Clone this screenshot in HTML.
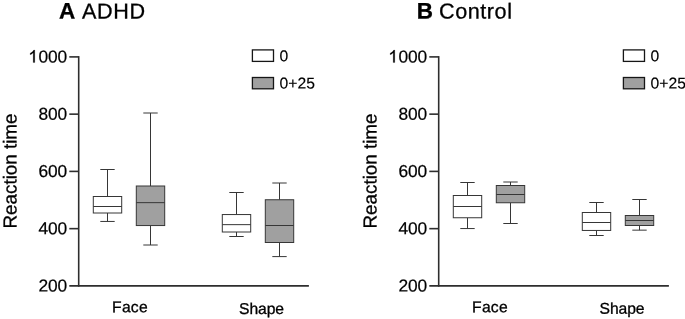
<!DOCTYPE html>
<html><head><meta charset="utf-8"><title>Reaction time</title>
<style>
html,body{margin:0;padding:0;background:#fff;}
body{width:685px;height:319px;overflow:hidden;}
svg{display:block;will-change:transform;}
text{font-family:"Liberation Sans",sans-serif;fill:#000;stroke:#000;}
</style></head><body>
<svg width="685" height="319" viewBox="0 0 685 319">
<rect width="685" height="319" fill="#fff"/>
<path d="M78.70 56.10V286.70" stroke="#2e2e2e" stroke-width="1.6" fill="none"/>
<path d="M69.30 285.90H308.90" stroke="#2e2e2e" stroke-width="1.6" fill="none"/>
<path d="M69.30 56.90H78.70" stroke="#2e2e2e" stroke-width="1.6" fill="none"/>
<path d="M69.30 114.15H78.70" stroke="#2e2e2e" stroke-width="1.6" fill="none"/>
<path d="M69.30 171.40H78.70" stroke="#2e2e2e" stroke-width="1.6" fill="none"/>
<path d="M69.30 228.65H78.70" stroke="#2e2e2e" stroke-width="1.6" fill="none"/>
<text transform="translate(67.00 62.55) matrix(1 0.001 0 1 0 0)" font-size="17.35" text-anchor="end" letter-spacing="-0.12" stroke-width="0.22">000</text>
<path transform="translate(28.29 62.55) scale(0.00847 -0.00847)" d="M763 0H583V1147Q518 1085 412.5 1023Q307 961 223 930V1104Q374 1175 487 1276Q600 1377 647 1472H763Z" fill="#000" stroke="#000" stroke-width="26.0"/>
<text transform="translate(67.00 119.80) matrix(1 0.001 0 1 0 0)" font-size="17.35" text-anchor="end" letter-spacing="-0.12" stroke-width="0.22">800</text>
<text transform="translate(67.00 177.05) matrix(1 0.001 0 1 0 0)" font-size="17.35" text-anchor="end" letter-spacing="-0.12" stroke-width="0.22">600</text>
<text transform="translate(67.00 234.30) matrix(1 0.001 0 1 0 0)" font-size="17.35" text-anchor="end" letter-spacing="-0.12" stroke-width="0.22">400</text>
<text transform="translate(67.00 291.55) matrix(1 0.001 0 1 0 0)" font-size="17.35" text-anchor="end" letter-spacing="-0.12" stroke-width="0.22">200</text>
<text transform="translate(16.50 171.00) rotate(-90) matrix(1 0.001 0 1 0 0)" font-size="18.8" text-anchor="middle" stroke-width="0.3">Reaction time</text>
<text transform="translate(130.00 312.30) matrix(1 0.001 0 1 0 0)" font-size="15.7" text-anchor="middle" letter-spacing="0.25" stroke-width="0.3">Face</text>
<text transform="translate(261.50 313.95) matrix(1 0.001 0 1 0 0)" font-size="15.7" text-anchor="middle" letter-spacing="-0.1" stroke-width="0.3">Shape</text>
<text transform="translate(59.00 18.50) matrix(1 0.001 0 1 0 0)" font-size="22.5" font-weight="bold" stroke-width="0.3">A</text>
<text transform="translate(81.90 18.50) matrix(1 0.001 0 1 0 0)" font-size="21.6" letter-spacing="0.7" stroke-width="0.3">ADHD</text>
<rect x="252.40" y="49.9" width="21.1" height="11.5" fill="#fff" stroke="#161616" stroke-width="1.3"/>
<rect x="252.40" y="77.5" width="21.1" height="11.3" fill="#a0a0a0" stroke="#161616" stroke-width="1.3"/>
<text transform="translate(279.55 61.25) matrix(1 0.001 0 1 0 0)" font-size="15.7" stroke-width="0.15">0</text>
<text transform="translate(279.55 88.50) matrix(1 0.001 0 1 0 0)" font-size="15.7" stroke-width="0.15">0+25</text>
<path d="M107.50 169.50V196.50M107.50 213.00V221.45M100.30 169.50H114.70M100.30 221.45H114.70" stroke="#363636" stroke-width="1" fill="none"/>
<rect x="93.30" y="196.50" width="28.40" height="16.50" fill="#fff" stroke="#363636" stroke-width="1"/>
<path d="M93.30 206.50H121.70" stroke="#363636" stroke-width="1" fill="none"/>
<path d="M150.50 113.00V186.00M150.50 225.55V245.00M143.30 113.00H157.70M143.30 245.00H157.70" stroke="#363636" stroke-width="1" fill="none"/>
<rect x="136.30" y="186.00" width="28.40" height="39.55" fill="#a0a0a0" stroke="#363636" stroke-width="1"/>
<path d="M136.30 202.65H164.70" stroke="#363636" stroke-width="1" fill="none"/>
<path d="M236.50 192.50V214.55M236.50 232.00V236.50M229.30 192.50H243.70M229.30 236.50H243.70" stroke="#363636" stroke-width="1" fill="none"/>
<rect x="222.30" y="214.55" width="28.40" height="17.45" fill="#fff" stroke="#363636" stroke-width="1"/>
<path d="M222.30 224.65H250.70" stroke="#363636" stroke-width="1" fill="none"/>
<path d="M279.50 183.00V199.75M279.50 242.50V256.60M272.30 183.00H286.70M272.30 256.60H286.70" stroke="#363636" stroke-width="1" fill="none"/>
<rect x="265.30" y="199.75" width="28.40" height="42.75" fill="#a0a0a0" stroke="#363636" stroke-width="1"/>
<path d="M265.30 225.50H293.70" stroke="#363636" stroke-width="1" fill="none"/>
<path d="M438.70 56.10V286.70" stroke="#2e2e2e" stroke-width="1.6" fill="none"/>
<path d="M429.30 285.90H668.90" stroke="#2e2e2e" stroke-width="1.6" fill="none"/>
<path d="M429.30 56.90H438.70" stroke="#2e2e2e" stroke-width="1.6" fill="none"/>
<path d="M429.30 114.15H438.70" stroke="#2e2e2e" stroke-width="1.6" fill="none"/>
<path d="M429.30 171.40H438.70" stroke="#2e2e2e" stroke-width="1.6" fill="none"/>
<path d="M429.30 228.65H438.70" stroke="#2e2e2e" stroke-width="1.6" fill="none"/>
<text transform="translate(427.00 62.55) matrix(1 0.001 0 1 0 0)" font-size="17.35" text-anchor="end" letter-spacing="-0.12" stroke-width="0.22">000</text>
<path transform="translate(388.29 62.55) scale(0.00847 -0.00847)" d="M763 0H583V1147Q518 1085 412.5 1023Q307 961 223 930V1104Q374 1175 487 1276Q600 1377 647 1472H763Z" fill="#000" stroke="#000" stroke-width="26.0"/>
<text transform="translate(427.00 119.80) matrix(1 0.001 0 1 0 0)" font-size="17.35" text-anchor="end" letter-spacing="-0.12" stroke-width="0.22">800</text>
<text transform="translate(427.00 177.05) matrix(1 0.001 0 1 0 0)" font-size="17.35" text-anchor="end" letter-spacing="-0.12" stroke-width="0.22">600</text>
<text transform="translate(427.00 234.30) matrix(1 0.001 0 1 0 0)" font-size="17.35" text-anchor="end" letter-spacing="-0.12" stroke-width="0.22">400</text>
<text transform="translate(427.00 291.55) matrix(1 0.001 0 1 0 0)" font-size="17.35" text-anchor="end" letter-spacing="-0.12" stroke-width="0.22">200</text>
<text transform="translate(376.50 171.00) rotate(-90) matrix(1 0.001 0 1 0 0)" font-size="18.8" text-anchor="middle" stroke-width="0.3">Reaction time</text>
<text transform="translate(490.00 312.30) matrix(1 0.001 0 1 0 0)" font-size="15.7" text-anchor="middle" letter-spacing="0.25" stroke-width="0.3">Face</text>
<text transform="translate(621.95 313.75) matrix(1 0.001 0 1 0 0)" font-size="15.7" text-anchor="middle" letter-spacing="-0.1" stroke-width="0.3">Shape</text>
<text transform="translate(416.70 18.50) matrix(1 0.001 0 1 0 0)" font-size="22.5" font-weight="bold" stroke-width="0.3">B</text>
<text transform="translate(439.05 18.50) matrix(1 0.001 0 1 0 0)" font-size="21.6" letter-spacing="0.55" stroke-width="0.3">Control</text>
<rect x="623.40" y="49.9" width="21.1" height="11.5" fill="#fff" stroke="#161616" stroke-width="1.3"/>
<rect x="623.40" y="77.5" width="21.1" height="11.3" fill="#a0a0a0" stroke="#161616" stroke-width="1.3"/>
<text transform="translate(650.55 61.25) matrix(1 0.001 0 1 0 0)" font-size="15.7" stroke-width="0.15">0</text>
<text transform="translate(650.55 88.50) matrix(1 0.001 0 1 0 0)" font-size="15.7" stroke-width="0.15">0+25</text>
<path d="M467.50 182.50V195.50M467.50 217.75V228.55M460.30 182.50H474.70M460.30 228.55H474.70" stroke="#363636" stroke-width="1" fill="none"/>
<rect x="453.30" y="195.50" width="28.40" height="22.25" fill="#fff" stroke="#363636" stroke-width="1"/>
<path d="M453.30 206.50H481.70" stroke="#363636" stroke-width="1" fill="none"/>
<path d="M510.50 182.00V185.50M510.50 202.75V223.50M503.30 182.00H517.70M503.30 223.50H517.70" stroke="#363636" stroke-width="1" fill="none"/>
<rect x="496.30" y="185.50" width="28.40" height="17.25" fill="#a0a0a0" stroke="#363636" stroke-width="1"/>
<path d="M496.30 194.50H524.70" stroke="#363636" stroke-width="1" fill="none"/>
<path d="M596.50 202.50V212.50M596.50 230.45V235.50M589.30 202.50H603.70M589.30 235.50H603.70" stroke="#363636" stroke-width="1" fill="none"/>
<rect x="582.30" y="212.50" width="28.40" height="17.95" fill="#fff" stroke="#363636" stroke-width="1"/>
<path d="M582.30 222.50H610.70" stroke="#363636" stroke-width="1" fill="none"/>
<path d="M639.50 199.50V215.50M639.50 225.50V230.15M632.30 199.50H646.70M632.30 230.15H646.70" stroke="#363636" stroke-width="1" fill="none"/>
<rect x="625.30" y="215.50" width="28.40" height="10.00" fill="#a0a0a0" stroke="#363636" stroke-width="1"/>
<path d="M625.30 220.50H653.70" stroke="#363636" stroke-width="1" fill="none"/>
</svg>
</body></html>
